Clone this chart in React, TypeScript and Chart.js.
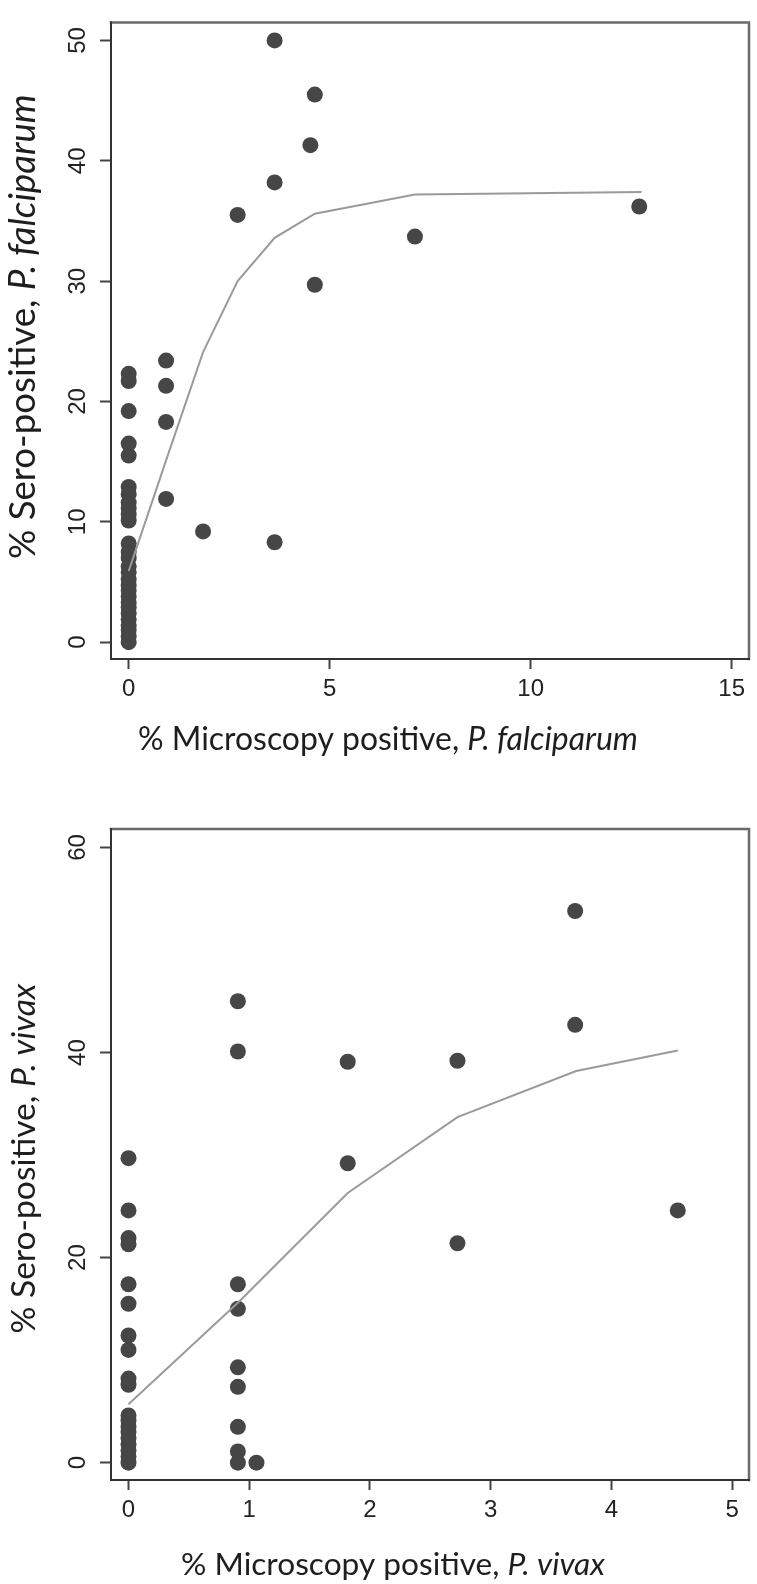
import React, { useEffect, useRef } from "react";
import { Chart, registerables } from "chart.js";

Chart.register(...registerables);

// ---------- Top panel: P. falciparum ----------
const pfMicroscopy = [
  0, 0, 0, 0, 0,
  0, 0, 0, 0, 0, 0,
  0, 0, 0, 0, 0, 0, 0, 0, 0, 0, 0, 0, 0, 0, 0, 0, 0,
  0.93, 0.93, 0.93, 0.93,
  1.85, 2.71,
  3.63, 3.63, 3.63,
  4.52, 4.63, 4.63,
  7.12, 12.7,
];
const pfSero = [
  22.3, 21.7, 19.2, 16.5, 15.5,
  12.9, 12.3, 11.6, 11.1, 10.6, 10.1,
  8.2, 7.5, 7.0, 6.3, 5.8, 5.2, 4.7, 4.3, 3.8, 3.3, 2.9, 2.4, 1.9, 1.4, 1.0, 0.5, 0.0,
  23.4, 21.3, 18.3, 11.9,
  9.2, 35.5,
  50.0, 38.2, 8.3,
  41.3, 45.5, 29.7,
  33.7, 36.2,
];
const pfSmoothX = [0, 0.93, 1.85, 2.71, 3.63, 4.63, 7.12, 12.76];
const pfSmoothY = [5.9, 15.1, 24.1, 30.0, 33.6, 35.6, 37.2, 37.4];
const pfXTicks = [0, 5, 10, 15];
const pfYTicks = [0, 10, 20, 30, 40, 50];

// ---------- Bottom panel: P. vivax ----------
const pvMicroscopy = [
  0, 0, 0, 0, 0, 0, 0, 0, 0, 0,
  0, 0, 0, 0, 0, 0, 0, 0, 0,
  0.906, 0.906, 0.906, 0.906, 0.906, 0.906, 0.906, 0.906, 0.906,
  1.06,
  1.816, 1.816,
  2.725, 2.725,
  3.7, 3.7,
  4.55,
];
const pvSero = [
  29.7, 24.6, 21.9, 21.3, 17.4, 15.5, 12.4, 11.0, 8.2, 7.6,
  4.6, 4.1, 3.5, 3.0, 2.4, 1.8, 1.2, 0.6, 0.0,
  45.0, 40.1, 17.4, 15.0, 9.3, 7.4, 3.5, 1.1, 0.0,
  0.0,
  39.1, 29.2,
  39.2, 21.4,
  53.8, 42.7,
  24.6,
];
const pvSmoothX = [0, 0.906, 1.816, 2.725, 3.708, 4.55];
const pvSmoothY = [5.7, 15.6, 26.3, 33.7, 38.2, 40.2];
const pvXTicks = [0, 1, 2, 3, 4, 5];
const pvYTicks = [0, 20, 40, 60];

type Seg = { text: string; italic: boolean };

const TITLE_FONT = "Lato, 'Open Sans', sans-serif";
const TICK_FONT = "'Liberation Sans', Arial, sans-serif";

function fontStr(size: number, italic: boolean) {
  return `${italic ? "italic " : ""}${size}px ${TITLE_FONT}`;
}

function measureSegs(ctx: CanvasRenderingContext2D, segs: Seg[], size: number) {
  let w = 0;
  for (const s of segs) {
    ctx.font = fontStr(size, s.italic);
    w += ctx.measureText(s.text).width;
  }
  return w;
}

function drawSegs(ctx: CanvasRenderingContext2D, segs: Seg[], size: number, x: number, y: number) {
  let cx = x;
  for (const s of segs) {
    ctx.font = fontStr(size, s.italic);
    ctx.fillText(s.text, cx, y);
    cx += ctx.measureText(s.text).width;
  }
}

const frameTitlesPlugin = {
  id: "frameTitles",
  afterDraw(chart: any, _args: any, opts: any) {
    const { ctx, chartArea: a } = chart;
    ctx.save();
    // frame
    ctx.lineCap = "square";
    ctx.strokeStyle = "#6a6a6a";
    ctx.lineWidth = 2.5;
    ctx.beginPath();
    ctx.moveTo(a.left, a.top);
    ctx.lineTo(a.right, a.top);
    ctx.lineTo(a.right, a.bottom);
    ctx.stroke();
    ctx.strokeStyle = "#333333";
    ctx.lineWidth = 2;
    ctx.beginPath();
    ctx.moveTo(a.left, a.top);
    ctx.lineTo(a.left, a.bottom);
    ctx.lineTo(a.right, a.bottom);
    ctx.stroke();

    // titles
    ctx.fillStyle = "#1e1e1e";
    ctx.textAlign = "left";
    ctx.textBaseline = "alphabetic";
    const xSize = (100 * opts.xTitleWidth) / measureSegs(ctx, opts.xTitle, 100);
    const xw = measureSegs(ctx, opts.xTitle, xSize);
    const cx = (a.left + a.right) / 2 + opts.xTitleDx;
    drawSegs(ctx, opts.xTitle, xSize, cx - xw / 2, a.bottom + opts.xTitleDy);

    const ySize = (100 * opts.yTitleWidth) / measureSegs(ctx, opts.yTitle, 100);
    const yw = measureSegs(ctx, opts.yTitle, ySize);
    const cy = (a.top + a.bottom) / 2 + opts.yTitleDy;
    ctx.translate(a.left - opts.yTitleDx, cy);
    ctx.rotate(-Math.PI / 2);
    drawSegs(ctx, opts.yTitle, ySize, -yw / 2, 0);
    ctx.restore();
  },
};

type PanelProps = {
  width: number;
  height: number;
  top: number;
  xs: number[];
  ys: number[];
  sx: number[];
  sy: number[];
  xTicks: number[];
  yTicks: number[];
  xMin: number;
  xMax: number;
  yMin: number;
  yMax: number;
  padTop: number;
  padRight: number;
  yAxisWidth: number;
  xAxisHeight: number;
  titles: any;
};

function Panel(p: PanelProps) {
  const ref = useRef<HTMLCanvasElement | null>(null);
  useEffect(() => {
    if (!ref.current) return;
    const tickFont = { family: TICK_FONT, size: 24 };
    const chart = new Chart(ref.current, {
      type: "scatter",
      data: {
        datasets: [
          {
            label: "smooth",
            data: p.sx.map((x, i) => ({ x, y: p.sy[i] })),
            showLine: true,
            borderColor: "#9a9a9a",
            borderWidth: 2,
            pointRadius: 0,
            fill: false,
            tension: 0,
          },
          {
            label: "sites",
            data: p.xs.map((x, i) => ({ x, y: p.ys[i] })),
            pointRadius: 8,
            pointBorderWidth: 0,
            pointBackgroundColor: "#464646",
            backgroundColor: "#464646",
            showLine: false,
          },
        ],
      },
      options: {
        responsive: false,
        animation: false,
        events: [],
        layout: { padding: { top: p.padTop, right: p.padRight, left: 0, bottom: 0 } },
        plugins: {
          legend: { display: false },
          tooltip: { enabled: false },
          frameTitles: p.titles,
        } as any,
        scales: {
          x: {
            type: "linear",
            min: p.xMin,
            max: p.xMax,
            afterBuildTicks: (s: any) => {
              s.ticks = p.xTicks.map((v) => ({ value: v }));
            },
            afterFit: (s: any) => {
              s.height = p.xAxisHeight;
            },
            grid: {
              display: true,
              drawOnChartArea: false,
              drawTicks: true,
              tickLength: 10,
              tickWidth: 2,
              tickColor: "#444444",
            },
            border: { display: false },
            ticks: {
              font: tickFont,
              color: "#222222",
              padding: 6,
              maxRotation: 0,
              minRotation: 0,
              autoSkip: false,
              includeBounds: false,
            },
          },
          y: {
            type: "linear",
            min: p.yMin,
            max: p.yMax,
            afterBuildTicks: (s: any) => {
              s.ticks = p.yTicks.map((v) => ({ value: v }));
            },
            afterFit: (s: any) => {
              s.width = p.yAxisWidth;
            },
            grid: {
              display: true,
              drawOnChartArea: false,
              drawTicks: true,
              tickLength: 11,
              tickWidth: 2,
              tickColor: "#444444",
            },
            border: { display: false },
            ticks: {
              font: tickFont,
              color: "#222222",
              padding: 8,
              minRotation: 90,
              maxRotation: 90,
              crossAlign: "center",
              autoSkip: false,
              includeBounds: false,
            },
          },
        },
      },
      plugins: [frameTitlesPlugin],
    } as any);
    return () => chart.destroy();
  }, []);
  return (
    <canvas
      ref={ref}
      width={p.width}
      height={p.height}
      style={{ position: "absolute", left: 0, top: p.top, width: p.width, height: p.height, display: "block" }}
    />
  );
}

export default function App() {
  return (
    <div style={{ position: "absolute", left: 0, top: 0, width: 757, height: 1584, background: "#ffffff", overflow: "hidden" }}>
      <Panel
        width={757}
        height={790}
        top={0}
        xs={pfMicroscopy}
        ys={pfSero}
        sx={pfSmoothX}
        sy={pfSmoothY}
        xTicks={pfXTicks}
        yTicks={pfYTicks}
        xMin={-0.44}
        xMax={15.43}
        yMin={-1.4}
        yMax={51.5}
        padTop={6}
        padRight={2}
        yAxisWidth={111}
        xAxisHeight={131}
        titles={{
          xTitle: [
            { text: "% Microscopy positive, ", italic: false },
            { text: "P. falciparum", italic: true },
          ],
          yTitle: [
            { text: "% Sero-positive, ", italic: false },
            { text: "P. falciparum", italic: true },
          ],
          xTitleWidth: 500,
          xTitleDx: -42,
          xTitleDy: 91,
          yTitleWidth: 465,
          yTitleDx: 76,
          yTitleDy: -14,
        }}
      />
      <Panel
        width={757}
        height={794}
        top={790}
        xs={pvMicroscopy}
        ys={pvSero}
        sx={pvSmoothX}
        sy={pvSmoothY}
        xTicks={pvXTicks}
        yTicks={pvYTicks}
        xMin={-0.145}
        xMax={5.14}
        yMin={-1.69}
        yMax={61.8}
        padTop={39}
        padRight={3}
        yAxisWidth={111}
        xAxisHeight={104}
        titles={{
          xTitle: [
            { text: "% Microscopy positive, ", italic: false },
            { text: "P. vivax", italic: true },
          ],
          yTitle: [
            { text: "% Sero-positive, ", italic: false },
            { text: "P. vivax", italic: true },
          ],
          xTitleWidth: 424,
          xTitleDx: -37,
          xTitleDy: 95,
          yTitleWidth: 350,
          yTitleDx: 76,
          yTitleDy: 4,
        }}
      />
    </div>
  );
}
